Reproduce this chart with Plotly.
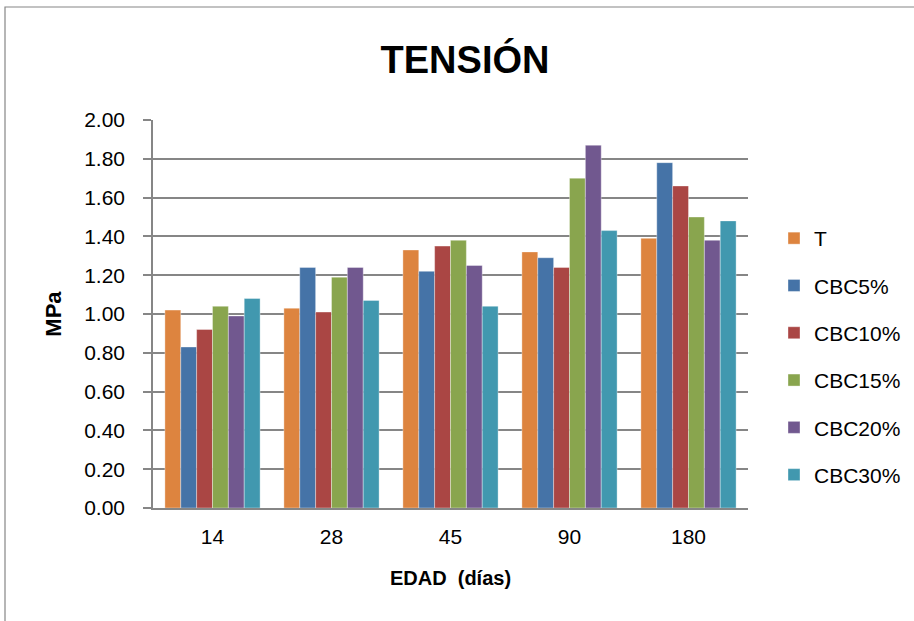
import plotly.graph_objects as go

categories = ["14", "28", "45", "90", "180"]
series_names = ["T", "CBC5%", "CBC10%", "CBC15%", "CBC20%", "CBC30%"]
T = [1.02, 1.03, 1.33, 1.32, 1.39]
CBC5 = [0.83, 1.24, 1.22, 1.29, 1.78]
CBC10 = [0.92, 1.01, 1.35, 1.24, 1.66]
CBC15 = [1.04, 1.19, 1.38, 1.70, 1.50]
CBC20 = [0.99, 1.24, 1.25, 1.87, 1.38]
CBC30 = [1.08, 1.07, 1.04, 1.43, 1.48]
series_values = [T, CBC5, CBC10, CBC15, CBC20, CBC30]
colors = ["#DD843F", "#4573A7", "#AA4644", "#89A54E", "#71588F", "#4198AF"]
y_ticks = [0, 0.2, 0.4, 0.6, 0.8, 1.0, 1.2, 1.4, 1.6, 1.8, 2.0]

FONT = "Liberation Sans"

fig = go.Figure()
for i, (name, vals) in enumerate(zip(series_names, series_values)):
    fig.add_trace(go.Bar(
        x=categories, y=vals, name=name, legendgroup=name,
        marker=dict(color=colors[i], line=dict(color="rgba(255,255,255,0.6)", width=0.6)),
    ))

W, H = 914, 621
L, R, Tm, B = 153, 166, 120, 113
pw = W - L - R
ph = H - Tm - B

fig.update_layout(
    width=W, height=H,
    margin=dict(l=L, r=R, t=Tm, b=B, autoexpand=False),
    paper_bgcolor="white", plot_bgcolor="white",
    barmode="group", bargap=0.2, bargroupgap=0,
    font=dict(family=FONT, size=21, color="black"),
    title=dict(text="<b>TENSIÓN</b>", x=465 / W, xanchor="center",
               y=1 - 60 / H, yanchor="middle",
               font=dict(family=FONT, size=38, color="black")),
    legend=dict(x=(774 - L) / pw, xanchor="left", y=(508 - 218) / ph, yanchor="top",
                font=dict(family=FONT, size=21), tracegroupgap=17,
                itemwidth=30, bgcolor="rgba(0,0,0,0)"),
    xaxis=dict(
        type="category", showgrid=False, showline=True, linecolor="#868686", linewidth=1.5,
        ticks="", tickfont=dict(size=21), ticklabelstandoff=9,
        title=dict(text="<b>EDAD  (días)</b>", font=dict(size=20), standoff=24),
    ),
    yaxis=dict(
        range=[0, 2.0], tickvals=y_ticks, tickformat=".2f",
        showgrid=True, gridcolor="#868686", gridwidth=1.5,
        showline=True, linecolor="#868686", linewidth=1.5,
        ticks="outside", ticklen=8, tickcolor="#868686", tickwidth=1.5,
        tickfont=dict(size=21), zeroline=False, ticklabelstandoff=14,
        title=dict(text="<b>MPa</b>", font=dict(size=22), standoff=16),
    ),
)

# outer chart frame
fig.add_shape(type="rect", xref="paper", yref="paper",
              x0=(5 - L) / pw, x1=(W + 5 - L) / pw,
              y0=(H - B - (H + 5)) / ph, y1=(H - B - 7) / ph,
              line=dict(color="#868686", width=1.2), fillcolor="rgba(0,0,0,0)", layer="below")

fig.write_html("out.html", config={"displayModeBar": False},
               post_script="document.body.style.margin='0';")
